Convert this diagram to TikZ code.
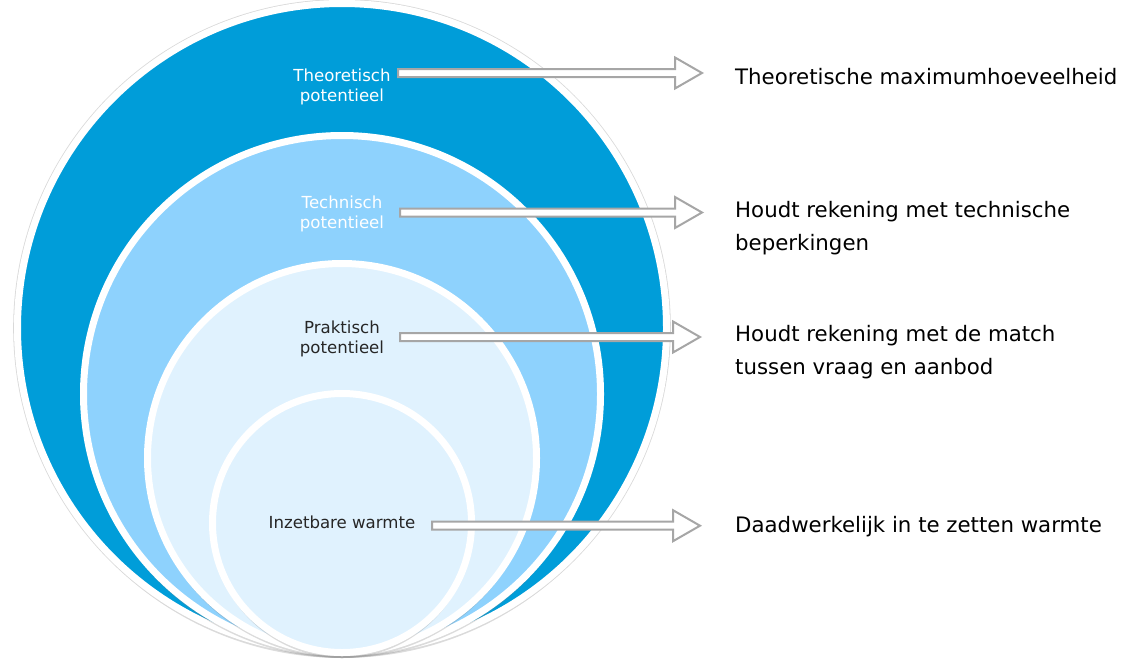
\documentclass[tikz,border=0pt]{standalone}
\usepackage{fontspec}
\setmainfont{DejaVu Sans}
\usetikzlibrary{calc,shadows}
\definecolor{theoblue}{HTML}{009DD9}
\definecolor{techblue}{HTML}{8ED2FD}
\definecolor{praklight}{HTML}{E0F2FE}
\definecolor{arrowgray}{HTML}{A6A6A6}
\definecolor{labeldark}{HTML}{262626}

\begin{document}
\begin{tikzpicture}[x=1pt,y=-1pt,
	ring/.style={circle, inner sep=0pt, draw=white, line width=7pt,
		drop shadow={shadow xshift=0pt, shadow yshift=-5.5pt, opacity=0.28}},
	rim/.style={preaction={draw=black!15, line width=8.6pt}},
	lbl/.style={align=center, inner sep=0pt, font=\fontsize{16.6}{20}\selectfont},
	expl/.style={align=left, anchor=base west, inner sep=0pt, font=\fontsize{21.3}{33}\selectfont},
	potarrow/.style={draw=arrowgray, fill=white, line width=2pt,
		to path={let \p1=(\tikztostart), \p2=(\tikztotarget) in
			(\x1,\y1+4pt) -- (\x2-27pt,\y1+4pt) -- (\x2-27pt,\y1+15.5pt) -- (\x2,\y1)
			-- (\x2-27pt,\y1-15.5pt) -- (\x2-27pt,\y1-4pt) -- (\x1,\y1-4pt) -- cycle}}]
	\useasboundingbox (0,0) rectangle (1123,661);

	% nested circles, all touching at the bottom
	\node[ring, rim, fill=theoblue, minimum size=649pt] (theo) at (342,328) {};
	\node[ring, fill=techblue, minimum size=517pt] (tech) at (342,394) {};
	\node[ring, fill=praklight, minimum size=389pt] (prak) at (342,458) {};
	\node[ring, fill=praklight, minimum size=259pt] (inz) at (342,523) {};

	% labels inside the circles
	\node[lbl, text=white] (theolbl) at (342,87.4) {Theoretisch\\potentieel};
	\node[lbl, text=white] (techlbl) at (342,213.7) {Technisch\\potentieel};
	\node[lbl, text=labeldark] (praklbl) at (342,338.7) {Praktisch\\potentieel};
	\node[lbl, text=labeldark] (inzlbl) at (342,522.7) {Inzetbare warmte};

	% explanations (base = last line)
	\node[expl] (theotxt) at (735,84.5) {Theoretische maximumhoeveelheid};
	\node[expl] (techtxt) at (735,250) {Houdt rekening met technische\\beperkingen};
	\node[expl] (praktxt) at (735,374) {Houdt rekening met de match\\tussen vraag en aanbod};
	\node[expl] (inztxt) at (735,532) {Daadwerkelijk in te zetten warmte};

	% block arrows
	\coordinate (theos) at (398,73);   \coordinate (theot) at (702,73);
	\coordinate (techs) at (400,212.5); \coordinate (techt) at (702,212.5);
	\coordinate (praks) at (400,337);  \coordinate (prakt) at (700,337);
	\coordinate (inzs) at (432,525.7); \coordinate (inzt) at (700,525.7);
	\path[potarrow] (theos) to (theot);
	\path[potarrow] (techs) to (techt);
	\path[potarrow] (praks) to (prakt);
	\path[potarrow] (inzs) to (inzt);
\end{tikzpicture}
\end{document}
